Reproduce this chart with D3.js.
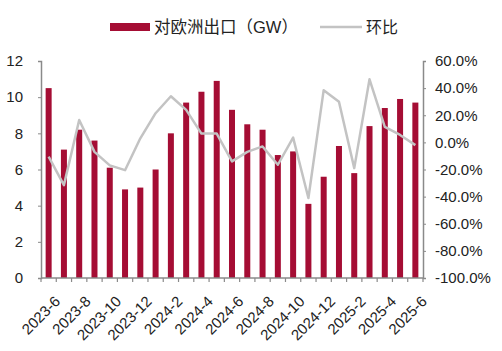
<!DOCTYPE html>
<html>
<head>
<meta charset="utf-8">
<script src="https://cdn.jsdelivr.net/npm/d3@7"></script>
<style>
  body { margin: 0; background: #fff; }
  svg text { font-family: "Liberation Sans", Arial, "Noto Sans CJK SC", sans-serif; fill: #222; }
</style>
</head>
<body>
<svg id="chart"></svg>
<script>
const months = ["2023-6","2023-7","2023-8","2023-9","2023-10","2023-11","2023-12",
  "2024-1","2024-2","2024-3","2024-4","2024-5","2024-6","2024-7","2024-8","2024-9",
  "2024-10","2024-11","2024-12","2025-1","2025-2","2025-3","2025-4","2025-5","2025-6"];
const exportGW = [10.5, 7.1, 8.2, 7.6, 6.1, 4.9, 5.0, 6.0, 8.0, 9.7, 10.3, 10.9, 9.3,
  8.5, 8.2, 6.8, 7.0, 4.1, 5.6, 7.3, 5.8, 8.4, 9.4, 9.9, 9.7];
const momPct = [-10.5, -31.5, 16.5, -7, -17, -20.5, 3, 21.5, 34, 24, 6.5, 6.5, -14,
  -7, -3, -16.5, 3.5, -41, 38.5, 30, -19, 46.5, 11.5, 5.5, -2];
const leftTicks = [0, 2, 4, 6, 8, 10, 12];
const rightTicks = [-100, -80, -60, -40, -20, 0, 20, 40, 60];

const width = 502, height = 351;
const margin = { top: 61, right: 79, bottom: 73, left: 41 };
const svg = d3.select("#chart").attr("width", width).attr("height", height);

const x = d3.scaleBand().domain(months)
  .range([margin.left, width - margin.right]);
const yL = d3.scaleLinear().domain([0, 12]).range([height - margin.bottom, margin.top]);
const yR = d3.scaleLinear().domain([-100, 60]).range([height - margin.bottom, margin.top]);

const barColor = "#a50d34";
const lineColor = "#c3c3c3";
const axisColor = "#8a8a8a";

// bars
svg.append("g").selectAll("rect")
  .data(exportGW)
  .enter().append("rect")
    .attr("x", (d, i) => x(months[i]) + x.bandwidth() / 2 - 3)
    .attr("width", 6)
    .attr("y", d => yL(d))
    .attr("height", d => yL(0) - yL(d))
    .attr("fill", barColor);

// MoM line
const line = d3.line()
  .x((d, i) => x(months[i]) + x.bandwidth() / 2)
  .y(d => yR(d));
svg.append("path")
  .datum(momPct)
  .attr("d", line)
  .attr("fill", "none")
  .attr("stroke", lineColor)
  .attr("stroke-width", 2.5)
  .attr("stroke-linejoin", "round");

// left axis
const gL = svg.append("g")
  .attr("transform", `translate(${margin.left},0)`)
  .call(d3.axisLeft(yL).tickValues(leftTicks).tickSize(3).tickPadding(15));
// right axis
const gR = svg.append("g")
  .attr("transform", `translate(${width - margin.right},0)`)
  .call(d3.axisRight(yR).tickValues(rightTicks).tickSize(3).tickPadding(9)
    .tickFormat(d => d.toFixed(1) + "%"));

// x axis: ticks at band boundaries
const gX = svg.append("g")
  .attr("transform", `translate(0,${height - margin.bottom})`);
gX.append("line")
  .attr("x1", margin.left).attr("x2", width - margin.right)
  .attr("stroke", axisColor).attr("stroke-width", 1.5);
gX.selectAll("line.tk")
  .data(months.concat(["end"]))
  .enter().append("line")
    .attr("class", "tk")
    .attr("x1", (d, i) => margin.left + i * x.step())
    .attr("x2", (d, i) => margin.left + i * x.step())
    .attr("y1", 0).attr("y2", 4)
    .attr("stroke", axisColor).attr("stroke-width", 1.2);
gX.selectAll("text")
  .data(months.filter((d, i) => i % 2 === 0))
  .enter().append("text")
    .attr("transform", d => `translate(${x(d) + x.bandwidth() / 2 + 5},17) rotate(-45)`)
    .attr("text-anchor", "end")
    .attr("dy", "0.7em")
    .style("font-size", "15px")
    .text(d => d);

[gL, gR].forEach(g => {
  g.select(".domain").attr("stroke", axisColor).attr("stroke-width", 1.5);
  g.selectAll(".tick line").attr("stroke", axisColor);
  g.selectAll(".tick text").style("font-size", "15px").attr("fill", "#222");
});
gL.selectAll(".tick text").attr("x", -18);

// legend
const lg = svg.append("g");
lg.append("rect").attr("x", 110).attr("y", 23).attr("width", 40).attr("height", 8).attr("fill", barColor);
lg.append("text").attr("x", 154).attr("y", 33).style("font-size", "16.5px").attr("fill", "#333")
  .text("对欧洲出口（GW）");
lg.append("line").attr("x1", 320).attr("x2", 362).attr("y1", 27).attr("y2", 27)
  .attr("stroke", lineColor).attr("stroke-width", 2.5);
lg.append("text").attr("x", 366).attr("y", 33).style("font-size", "16px").attr("fill", "#333")
  .text("环比");
</script>
</body>
</html>
